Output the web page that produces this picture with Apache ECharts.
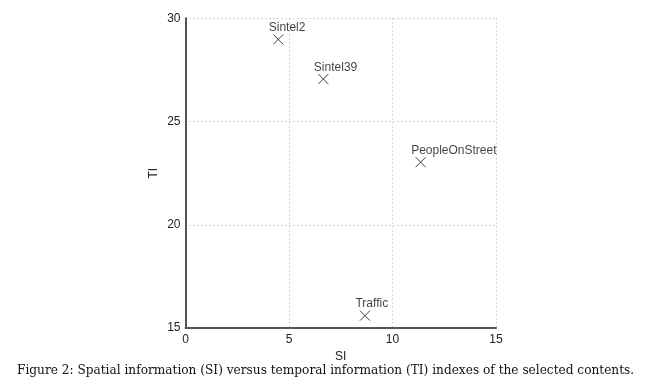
<!DOCTYPE html>
<html><head><meta charset="utf-8">
<script src="https://cdn.jsdelivr.net/npm/echarts@6/dist/echarts.min.js"></script>
<style>html,body{margin:0;padding:0;background:#fff}#c{width:650px;height:384px}</style>
</head><body><div id="c"></div>
<script>
const names = ['Sintel2','Sintel39','PeopleOnStreet','Traffic'];
const siValues = [4.48, 6.66, 11.36, 8.67];
const tiValues = [28.98, 27.06, 23.03, 15.6];
const xTicks = [0, 5, 10, 15];
const yTicks = [15, 20, 25, 30];
const caption = 'Figure 2: Spatial information (SI) versus temporal information (TI) indexes of the selected contents.';

const data = names.map((n, i) => ({ name: n, value: [siValues[i], tiValues[i]] }));
const chart = echarts.init(document.getElementById('c'));
const font = 'Liberation Sans, Arial, sans-serif';
chart.setOption({
  animation: false,
  backgroundColor: '#fff',
  grid: { left: 185.5, right: 154, top: 18.3, bottom: 56 },
  xAxis: {
    type: 'value', min: xTicks[0], max: xTicks[xTicks.length - 1], interval: 5,
    name: 'SI', nameLocation: 'middle', nameGap: 18,
    nameTextStyle: { fontFamily: font, fontSize: 12, color: '#222' },
    axisLine: { lineStyle: { color: '#555', width: 2 } },
    axisTick: { show: false },
    axisLabel: { fontFamily: font, fontSize: 12, color: '#222', margin: 6 },
    splitLine: { show: true, lineStyle: { color: '#aaa', type: [1, 3], width: 1 } }
  },
  yAxis: {
    type: 'value', min: yTicks[0], max: yTicks[yTicks.length - 1], interval: 5,
    name: 'TI', nameLocation: 'middle', nameGap: 26, nameRotate: 90,
    nameTextStyle: { fontFamily: font, fontSize: 12, color: '#222' },
    axisLine: { show: true, lineStyle: { color: '#555', width: 2 } },
    axisTick: { show: false },
    axisLabel: { fontFamily: font, fontSize: 12, color: '#222', margin: 5 },
    splitLine: { show: true, lineStyle: { color: '#aaa', type: [1, 3], width: 1 } }
  },
  series: [{
    type: 'scatter',
    data: data,
    symbol: 'path://M0,0L10,10M10,0L0,10',
    symbolSize: 10,
    itemStyle: { color: 'rgba(0,0,0,0)', borderColor: '#111', borderWidth: 1 },
    label: {
      show: true, formatter: '{b}', position: [-4, 0], align: 'left', verticalAlign: 'bottom',
      fontFamily: font, fontSize: 12, color: '#111'
    }
  }],
  graphic: [{
    type: 'text', left: 17, top: 365,
    style: { text: caption, font: '12.15px "DejaVu Serif", serif', fill: '#111' }
  }]
});
</script></body></html>
